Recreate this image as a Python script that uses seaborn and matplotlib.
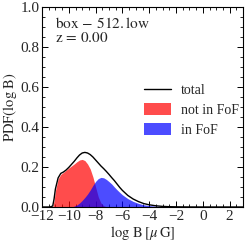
import matplotlib
matplotlib.use('Agg')
import matplotlib.pyplot as plt
from matplotlib.ticker import MultipleLocator, AutoMinorLocator
import seaborn as sns
import pandas as pd

# valores
logB = [-12.0, -11.4, -11.2, -11.1, -11.0, -10.8, -10.6, -10.4, -10.2, -10.0,
        -9.8, -9.6, -9.4, -9.2, -9.0, -8.8, -8.6, -8.4, -8.2, -8.0,
        -7.8, -7.6, -7.4, -7.2, -7.0, -6.8, -6.6, -6.4, -6.2, -6.0,
        -5.6, -5.2, -4.8, -4.4, -4.0, -3.5, -3.0, -2.5, -2.0, -1.0, 0.0, 3.0]

pdf_total = [0.0, 0.0, 0.005, 0.04, 0.09, 0.145, 0.168, 0.175, 0.185, 0.198,
             0.213, 0.228, 0.245, 0.26, 0.27, 0.273, 0.27, 0.262, 0.25, 0.235,
             0.22, 0.205, 0.192, 0.178, 0.163, 0.147, 0.132, 0.115, 0.098, 0.083,
             0.058, 0.04, 0.027, 0.017, 0.011, 0.006, 0.003, 0.0015, 0.0008, 0.0002, 0.0, 0.0]

pdf_no_fof = [0.0, 0.0, 0.0, 0.03, 0.08, 0.14, 0.163, 0.173, 0.184, 0.195,
              0.205, 0.215, 0.226, 0.235, 0.238, 0.232, 0.215, 0.19, 0.15, 0.10,
              0.05, 0.02, 0.006, 0.001, 0.0, 0.0, 0.0, 0.0, 0.0, 0.0,
              0.0, 0.0, 0.0, 0.0, 0.0, 0.0, 0.0, 0.0, 0.0, 0.0, 0.0, 0.0]

pdf_fof = [0.0, 0.0, 0.0, 0.0, 0.0, 0.0, 0.0, 0.0, 0.0, 0.0,
           0.0, 0.004, 0.01, 0.02, 0.033, 0.048, 0.065, 0.085, 0.108, 0.128,
           0.142, 0.148, 0.146, 0.138, 0.127, 0.115, 0.10, 0.086, 0.073, 0.061,
           0.042, 0.028, 0.018, 0.011, 0.007, 0.004, 0.002, 0.001, 0.0005, 0.0, 0.0, 0.0]

df = pd.DataFrame({'logB': logB, 'total': pdf_total,
                   'nofof': pdf_no_fof, 'fof': pdf_fof})

sns.set_style('ticks')
plt.rcParams['font.family'] = ['Liberation Serif', 'DejaVu Serif']
plt.rcParams['mathtext.fontset'] = 'stix'
plt.rcParams['font.size'] = 11
plt.rcParams['xtick.direction'] = 'in'
plt.rcParams['ytick.direction'] = 'in'

fig, ax = plt.subplots(figsize=(2.5, 2.5), dpi=100)
fig.subplots_adjust(left=0.168, right=0.972, bottom=0.172, top=0.972)

ax.fill_between(df['logB'], df['nofof'], color='red', alpha=0.7, lw=0, label='not in FoF')
ax.fill_between(df['logB'], df['fof'], color='blue', alpha=0.7, lw=0, label='in FoF')
sns.lineplot(data=df, x='logB', y='total', color='black', lw=1.0, ax=ax, label='total')

ax.set_xlim(-12, 3)
ax.set_ylim(0, 1)
ax.xaxis.set_major_locator(MultipleLocator(2))
ax.xaxis.set_minor_locator(AutoMinorLocator(4))
ax.yaxis.set_major_locator(MultipleLocator(0.2))
ax.yaxis.set_minor_locator(AutoMinorLocator(4))
ax.tick_params(which='both', top=True, right=True, color='black', labelsize=11, pad=2)
ax.tick_params(which='major', length=4, width=0.7)
ax.tick_params(which='minor', length=2, width=0.6)
for s in ax.spines.values():
    s.set_color('black')
    s.set_linewidth(0.8)

ax.set_xlabel(r'$\log\,{\rm B}\;[\mu\,{\rm G}]$', fontsize=10.5, labelpad=1)
ax.set_ylabel(r'${\rm PDF}(\log\,{\rm B})$', fontsize=10.5, labelpad=1)

ax.text(0.065, 0.92, r'${\rm box}\,-\,512.{\rm low}$', transform=ax.transAxes, fontsize=11, va='center')
ax.text(0.065, 0.845, r'${\rm z}\,=\,0.00$', transform=ax.transAxes, fontsize=11, va='center')

h, l = ax.get_legend_handles_labels()
order = [l.index('total'), l.index('not in FoF'), l.index('in FoF')]
ax.legend([h[i] for i in order], [l[i] for i in order], frameon=False, fontsize=10,
          loc='upper left', bbox_to_anchor=(0.478, 0.645), handlelength=1.95,
          handleheight=0.9, handletextpad=0.75, labelspacing=0.45, borderaxespad=0)

fig.savefig('out.png', dpi=100)
